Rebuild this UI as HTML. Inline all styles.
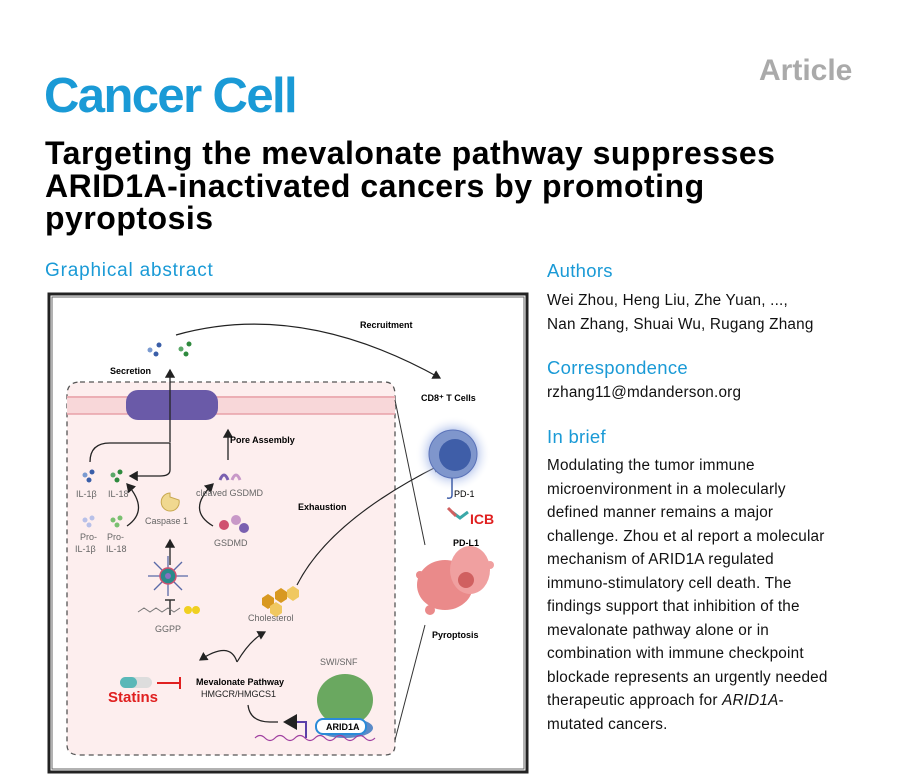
<!DOCTYPE html>
<html><head><meta charset="utf-8"><style>
body{margin:0;width:899px;height:778px;background:#fff;position:relative;overflow:hidden;font-family:"Liberation Sans",Arial,sans-serif}
.a{position:absolute;white-space:nowrap}
.h{color:#1a9ad6;font-size:18.5px;letter-spacing:0.3px}
.t{font-weight:bold;font-size:32px;color:#000;letter-spacing:0.5px}
.r{font-size:15.3px;color:#111;line-height:23.5px;letter-spacing:0.2px}
</style></head><body>
<div class="a" style="left:759px;top:54px;font-size:30px;font-weight:bold;color:#aaa">Article</div>
<div class="a" style="left:44px;top:68px;font-size:49px;font-weight:bold;color:#1a9ad6;letter-spacing:-1.6px">Cancer Cell</div>
<div class="a t" style="left:45px;top:135px">Targeting the mevalonate pathway suppresses</div>
<div class="a t" style="left:45px;top:168px">ARID1A-inactivated cancers by promoting</div>
<div class="a t" style="left:45px;top:200px">pyroptosis</div>
<div class="a h" style="left:45px;top:260px;font-size:19px;letter-spacing:0.8px">Graphical abstract</div>
<div class="a h" style="left:547px;top:260px">Authors</div>
<div class="a r" style="left:547px;top:289px">Wei Zhou, Heng Liu, Zhe Yuan, ...,<br>Nan Zhang, Shuai Wu, Rugang Zhang</div>
<div class="a h" style="left:547px;top:357px">Correspondence</div>
<div class="a r" style="left:547px;top:381px">rzhang11@mdanderson.org</div>
<div class="a h" style="left:547px;top:426px">In brief</div>
<div class="a r" style="left:547px;top:454px">Modulating the tumor immune<br>microenvironment in a molecularly<br>defined manner remains a major<br>challenge. Zhou et al report a molecular<br>mechanism of ARID1A regulated<br>immuno-stimulatory cell death. The<br>findings support that inhibition of the<br>mevalonate pathway alone or in<br>combination with immune checkpoint<br>blockade represents an urgently needed<br>therapeutic approach for <i>ARID1A</i>-<br>mutated cancers.</div>
<svg class="a" style="left:0;top:0" width="899" height="778" font-family="Liberation Sans,Arial,sans-serif">
<defs><marker id="m" markerWidth="8" markerHeight="8" refX="6" refY="4" orient="auto"><path d="M0,0 L7,4 L0,8z" fill="#222"/></marker>
<radialGradient id="g"><stop offset="0.5" stop-color="#6a8ad8"/><stop offset="1" stop-color="#fff" stop-opacity="0"/></radialGradient></defs>
<rect x="49" y="294" width="478" height="478" fill="#fff" stroke="#222" stroke-width="3"/>
<rect x="52" y="297" width="472" height="472" fill="none" stroke="#666" stroke-width="1"/>
<path d="M80,382 H385 Q395,382 395,395 V745 Q395,755 385,755 H80 Q67,755 67,745 V395 Q67,382 80,382Z" fill="#fdeeee" stroke="#555" stroke-dasharray="5,4" stroke-width="1.3"/>
<rect x="67" y="396" width="328" height="18" fill="#f8d7d9"/>
<line x1="67" y1="397" x2="395" y2="397" stroke="#e8a0a8" stroke-width="1.5"/>
<line x1="67" y1="414" x2="395" y2="414" stroke="#e8a0a8" stroke-width="1.5"/>
<rect x="126" y="390" width="92" height="30" rx="12" fill="#6a5aa8"/>
<path d="M176,335 Q300,300 440,378" fill="none" stroke="#222" stroke-width="1.2" marker-end="url(#m)"/>
<text x="360" y="328" font-size="9" font-weight="bold">Recruitment</text>
<text x="110" y="374" font-size="9" font-weight="bold">Secretion</text>
<text x="421" y="401" font-size="9" font-weight="bold">CD8⁺ T Cells</text>
<g fill="#3a5ea8"><circle cx="150" cy="350" r="2.5" fill="#7a9ad0"/><circle cx="159" cy="345" r="2.5"/><circle cx="156" cy="354" r="2.5"/></g>
<g fill="#2e8a3e"><circle cx="181" cy="349" r="2.5" fill="#5aa868"/><circle cx="189" cy="344" r="2.5"/><circle cx="186" cy="354" r="2.5"/></g>
<path d="M170,442 V370" stroke="#222" stroke-width="1.3" marker-end="url(#m)"/>
<path d="M90,462 Q90,443 110,443 H170 V470 Q170,476 160,476 H130" fill="none" stroke="#222" stroke-width="1.3" marker-end="url(#m)"/>
<path d="M228,460 V430" stroke="#222" stroke-width="1.3" marker-end="url(#m)"/>
<text x="230" y="443" font-size="9" font-weight="bold">Pore Assembly</text>
<path d="M127,526 Q150,510 127,484" fill="none" stroke="#222" stroke-width="1.3" marker-end="url(#m)"/>
<path d="M213,526 Q186,510 213,484" fill="none" stroke="#222" stroke-width="1.3" marker-end="url(#m)"/>
<g font-size="9" fill="#666"><text x="76" y="497">IL-1β</text><text x="108" y="497">IL-18</text>
<text x="145" y="524">Caspase 1</text><text x="196" y="496">cleaved GSDMD</text><text x="214" y="546">GSDMD</text>
<text x="80" y="540">Pro-</text><text x="107" y="540">Pro-</text><text x="75" y="552">IL-1β</text><text x="106" y="552">IL-18</text>
<text x="155" y="632">GGPP</text><text x="248" y="621">Cholesterol</text><text x="320" y="665">SWI/SNF</text></g>
<g fill="#3a5ea8"><circle cx="85" cy="475" r="2.5" fill="#7a9ad0"/><circle cx="92" cy="472" r="2.5"/><circle cx="89" cy="480" r="2.5"/></g>
<g fill="#2e8a3e"><circle cx="113" cy="475" r="2.5" fill="#5aa868"/><circle cx="120" cy="472" r="2.5"/><circle cx="117" cy="480" r="2.5"/></g>
<g fill="#b8c0e8"><circle cx="85" cy="520" r="2.5"/><circle cx="92" cy="518" r="2.5"/><circle cx="89" cy="525" r="2.5"/></g>
<g fill="#7ac070"><circle cx="113" cy="520" r="2.5"/><circle cx="120" cy="518" r="2.5"/><circle cx="117" cy="525" r="2.5"/></g>
<path d="M170,493 A9,9 0 1,0 179,500 L170,497Z" fill="#f0d890" stroke="#c8a850"/>
<path d="M220,480 q4,-10 8,0" stroke="#7a60b0" stroke-width="3" fill="none"/><path d="M232,480 q4,-10 8,0" stroke="#c898c8" stroke-width="3" fill="none"/>
<circle cx="224" cy="525" r="5" fill="#d05070"/><circle cx="236" cy="520" r="5" fill="#c898c8"/><circle cx="244" cy="528" r="5" fill="#7a60b0"/>
<path d="M170,565 V540" stroke="#222" stroke-width="1.3" marker-end="url(#m)"/>
<g stroke="#5a6aa8" stroke-width="1.3"><line x1="148" y1="576" x2="188" y2="576"/><line x1="168" y1="556" x2="168" y2="596"/><line x1="154" y1="562" x2="182" y2="590"/><line x1="182" y1="562" x2="154" y2="590"/></g>
<circle cx="168" cy="576" r="8" fill="#2a8a8a" stroke="#d05070" stroke-width="1.5"/><circle cx="168" cy="576" r="3" fill="#8a70c0"/>
<path d="M170,615 V600 M165,600 H175" stroke="#333" stroke-width="1.5"/>
<path d="M138,612 l6,-4 6,4 6,-4 6,4 6,-4 6,4 6,-4" fill="none" stroke="#777"/>
<circle cx="188" cy="610" r="4" fill="#f0d020"/><circle cx="196" cy="610" r="4" fill="#f0d020"/>
<g fill="#d89820"><polygon points="262,598 268,594 274,598 274,605 268,609 262,605"/><polygon points="275,592 281,588 287,592 287,599 281,603 275,599"/></g>
<polygon points="287,590 293,586 299,590 299,597 293,601 287,597" fill="#f0c860"/>
<polygon points="270,606 276,602 282,606 282,613 276,617 270,613" fill="#f0c860"/>
<path d="M297,585 Q330,520 440,465" fill="none" stroke="#222" stroke-width="1.2" marker-end="url(#m)"/>
<text x="298" y="510" font-size="9" font-weight="bold">Exhaustion</text>
<path d="M237,662 Q230,640 200,660" fill="none" stroke="#222" stroke-width="1.2" marker-end="url(#m)"/>
<path d="M237,662 Q250,640 265,632" fill="none" stroke="#222" stroke-width="1.2" marker-end="url(#m)"/>
<text x="196" y="685" font-size="9" font-weight="bold">Mevalonate Pathway</text>
<text x="201" y="697" font-size="9" fill="#222">HMGCR/HMGCS1</text>
<rect x="120" y="677" width="32" height="11" rx="5.5" fill="#ddd"/><rect x="120" y="677" width="17" height="11" rx="5.5" fill="#5ab8b8"/>
<path d="M157,683 H180 M180,677 V689" stroke="#e02020" stroke-width="2"/>
<text x="108" y="702" font-size="15" font-weight="bold" fill="#e02020">Statins</text>
<path d="M248,705 Q250,722 270,722 H278" fill="none" stroke="#222" stroke-width="1.2"/>
<path d="M306,738 V722 H285" fill="none" stroke="#5a40a8" stroke-width="2" marker-end="url(#m)"/>
<ellipse cx="345" cy="700" rx="28" ry="26" fill="#6aa860"/><ellipse cx="345" cy="728" rx="28" ry="10" fill="#5a8ac8"/>
<rect x="316" y="719" width="50" height="15" rx="7" fill="#fff" stroke="#2a8ad8" stroke-width="2"/>
<text x="326" y="730" font-size="9" font-weight="bold">ARID1A</text>
<path d="M255,738 q5,-5 10,0 t10,0 t10,0 t10,0 t10,0 t10,0 t10,0 t10,0 t10,0 t10,0 t10,0 t10,0" fill="none" stroke="#a040a0" stroke-width="1.2"/>
<circle cx="453" cy="454" r="38" fill="url(#g)" opacity="0.7"/>
<circle cx="453" cy="454" r="24" fill="#7f96cc" stroke="#5a72b8"/><circle cx="455" cy="455" r="16" fill="#3f5ea8"/>
<path d="M452,478 V495 q0,4 -5,3" stroke="#3f5ea8" stroke-width="1.5" fill="none"/>
<text x="454" y="497" font-size="9">PD-1</text>
<text x="470" y="524" font-size="14" font-weight="bold" fill="#e02020">ICB</text>
<path d="M452,512 l8,6 8,-6" stroke="#3aa8a8" stroke-width="3" fill="none"/><path d="M448,508 l8,8" stroke="#d06060" stroke-width="3"/>
<text x="453" y="546" font-size="9" font-weight="bold">PD-L1</text>
<ellipse cx="445" cy="585" rx="28" ry="25" fill="#ea8a8a"/><ellipse cx="470" cy="570" rx="20" ry="24" fill="#f0a0a0"/><circle cx="466" cy="580" r="8" fill="#d06060"/>
<circle cx="420" cy="575" r="4" fill="#ea8a8a"/><circle cx="430" cy="610" r="5" fill="#ea8a8a"/><circle cx="490" cy="565" r="4" fill="#f0a0a0"/>
<text x="432" y="638" font-size="9" font-weight="bold">Pyroptosis</text>
<line x1="395" y1="400" x2="425" y2="545" stroke="#333"/><line x1="395" y1="740" x2="425" y2="625" stroke="#333"/>
</svg>
</body></html>
